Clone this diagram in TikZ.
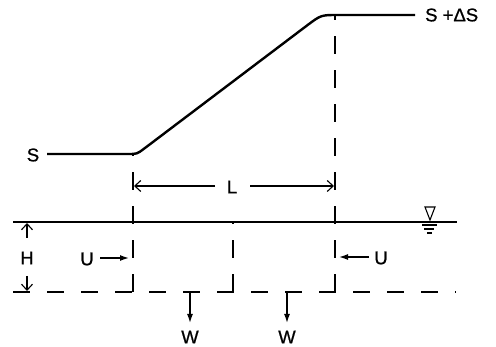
\documentclass[tikz,border=0pt]{standalone}
\usepackage{fontspec}
\setmainfont{Liberation Sans}
\newfontface\lettering{Liberation Sans}[FakeBold=0.8]
\usetikzlibrary{arrows.meta}
\begin{document}
\begin{tikzpicture}[x=1pt,y=-1pt,line cap=butt,
  lbl/.style={font=\lettering\fontsize{18.5}{18.5}\selectfont, inner sep=0pt},
  profile/.style={line width=2.4pt},
  dashv/.style={line width=1.8pt, dash pattern=on 18pt off 16pt},
  dashh/.style={line width=1.8pt, dash pattern=on 17pt off 17pt},
  water/.style={line width=1.8pt},
  dimarrow/.style={line width=1.1pt, -{Straight Barb[length=6pt,width=11pt,line width=1.1pt]}},
  force/.style={line width=1.4pt, -{Latex[length=9pt,width=6pt]}},
  thinln/.style={line width=1.1pt}]
\useasboundingbox (0,0) rectangle (496,347);

% profile of the surface
\coordinate (p0) at (47,154);
\coordinate (p3) at (415,15);
\draw[profile] (p0) -- (128,154) .. controls (137,154) .. (144.2,148.6)
  -- (307.4,25.2) .. controls (321,15) .. (338,15) -- (p3);
\node[lbl] (s) at (33,155) {S};
\node[lbl,anchor=west] (sds) at (425,15) {S +ΔS};

% vertical dashed lines
\coordinate (b1) at (133,292); \coordinate (t1) at (133,154);
\coordinate (b2) at (335,292); \coordinate (t2) at (335,15);
\coordinate (b3) at (233,292); \coordinate (t3) at (233,222);
\draw[dashv] (b1) -- (t1);
\draw[dashv] (b2) -- (t2);
\draw[dashv] (b3) -- (t3);

% bottom dashed line and water line
\coordinate (bl) at (13,292); \coordinate (br) at (456,292);
\draw[dashh] (bl) -- (br);
\coordinate (wl) at (13,222); \coordinate (wr) at (457,222);
\draw[water] (wl) -- (wr);

% water surface symbol
\draw[thinln] (425,207) -- (435,207) -- (430,220) -- cycle;
\draw[thinln] (422,225) -- (437,225);
\draw[thinln] (424,229) -- (434,229);
\draw[thinln] (427,233) -- (432,233);

% L dimension
\node[lbl] (L) at (232,187) {L};
\coordinate (la) at (215,186); \coordinate (lb) at (250,186);
\coordinate (l1) at (134,186); \coordinate (l2) at (334,186);
\draw[dimarrow] (la) -- (l1);
\draw[dimarrow] (lb) -- (l2);

% H dimension
\node[lbl] (H) at (27,258) {H};
\coordinate (h1) at (27,238); \coordinate (h1e) at (27,223);
\coordinate (h2) at (27,276); \coordinate (h2e) at (27,291);
\draw[dimarrow] (h1) -- (h1e);
\draw[dimarrow] (h2) -- (h2e);

% U forces
\node[lbl] (u1) at (87,259) {U};
\coordinate (u1a) at (100,258); \coordinate (u1b) at (129,258);
\draw[force] (u1a) -- (u1b);
\node[lbl] (u2) at (381,258) {U};
\coordinate (u2a) at (369,257); \coordinate (u2b) at (339,257);
\draw[force] (u2a) -- (u2b);

% W forces
\node[lbl] (w1) at (190,337) {W};
\node[lbl] (w2) at (287,337) {W};
\coordinate (w1a) at (190,292); \coordinate (w1b) at (190,323);
\coordinate (w2a) at (287,292); \coordinate (w2b) at (287,323);
\draw[force] (w1a) -- (w1b);
\draw[force] (w2a) -- (w2b);
\end{tikzpicture}
\end{document}
